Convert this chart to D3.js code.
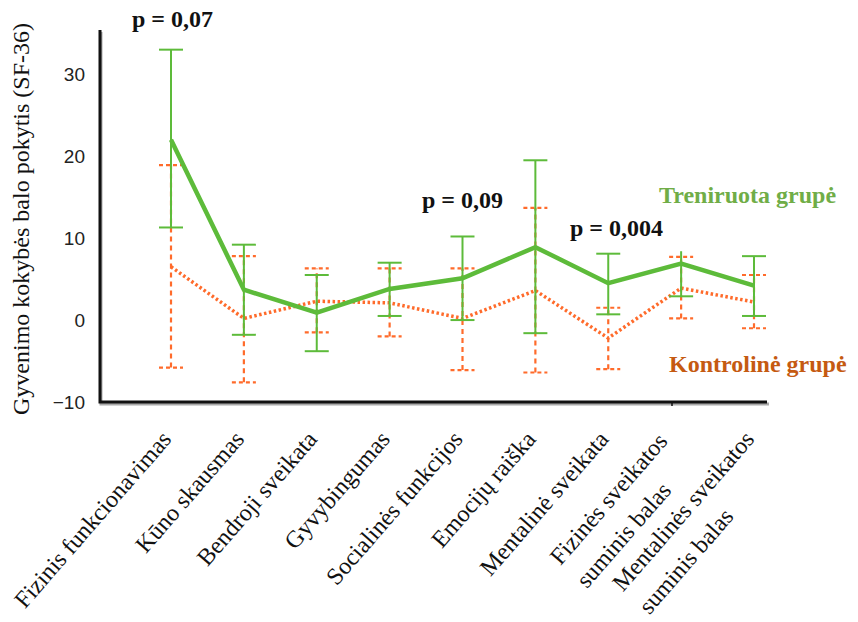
<!DOCTYPE html>
<html>
<head>
<meta charset="utf-8">
<script src="https://cdn.jsdelivr.net/npm/d3@7/dist/d3.min.js"></script>
<style>
  html, body { margin: 0; padding: 0; background: #fff; }
  svg { display: block; }
</style>
</head>
<body>
<svg id="chart" width="858" height="622"></svg>
<script>
// SF-36 subscales (each label split into display lines)
const categories = [
  ["Fizinis funkcionavimas"],
  ["Kūno skausmas"],
  ["Bendroji sveikata"],
  ["Gyvybingumas"],
  ["Socialinės funkcijos"],
  ["Emocijų raiška"],
  ["Mentalinė sveikata"],
  ["Fizinės sveikatos", "suminis balas"],
  ["Mentalinės sveikatos", "suminis balas"]
];

// Change of score, trained group: mean and error-bar bounds
const trainedMean = [22.0, 3.7, 0.9, 3.8, 5.1, 8.9, 4.5, 6.9, 4.2];
const trainedLow  = [11.3, -1.8, -3.8, 0.5, 0.0, -1.6, 0.7, 2.9, 0.5];
const trainedHigh = [33.0, 9.2, 5.5, 7.0, 10.2, 19.5, 8.1, 8.4, 7.8];

// Change of score, control group: mean and error-bar bounds
const controlMean = [6.5, 0.2, 2.3, 2.1, 0.2, 3.6, -2.2, 3.9, 2.2];
const controlLow  = [-5.8, -7.6, -1.5, -2.0, -6.1, -6.4, -6.0, 0.2, -1.0];
const controlHigh = [18.9, 7.8, 6.3, 6.3, 6.3, 13.7, 1.5, 7.7, 5.5];

const yTicks = [-10, 0, 10, 20, 30];

// p-value annotations: category index and text
const pLabels = [
  { idx: 0, text: "p = 0,07" },
  { idx: 4, text: "p = 0,09" },
  { idx: 6, text: "p = 0,004" }
];

const seriesNames = ["Treniruota grupė", "Kontrolinė grupė"];
const yTitle = "Gyvenimo kokybės balo pokytis (SF-36)";

const GREEN = "#5dbb3a";
const ORANGE = "#ff6b2b";
const serif = "'Liberation Serif', 'Times New Roman', serif";
const sans = "'Liberation Sans', Arial, sans-serif";

const svg = d3.select("#chart");

const x = d3.scalePoint()
  .domain(d3.range(categories.length))
  .range([171, 754]);

const y = d3.scaleLinear()
  .domain([-10, 35.4])
  .range([402, 30]);

// Y axis tick labels (no tick marks)
const yAxis = svg.append("g")
  .attr("transform", "translate(100,0)")
  .call(d3.axisLeft(y).tickValues(yTicks).tickSize(0).tickPadding(15).tickFormat(d3.format("d")));
yAxis.select(".domain").remove();
yAxis.selectAll("text")
  .attr("font-family", sans)
  .attr("font-size", 19)
  .attr("fill", "#222");

// Axis frame
const frame = svg.append("g");
frame.append("path")
  .attr("d", "M101,32V404H769")
  .attr("fill", "none")
  .attr("stroke", "#aaa")
  .attr("stroke-width", 3);
frame.append("path")
  .attr("d", "M100,30V402H767")
  .attr("fill", "none")
  .attr("stroke", "#111")
  .attr("stroke-width", 3);
frame.append("line")
  .attr("x1", 672).attr("x2", 672)
  .attr("y1", 402).attr("y2", 406)
  .attr("stroke", "#111").attr("stroke-width", 1.5);

// Y axis title
svg.append("text")
  .attr("transform", "translate(29,219) rotate(-90)")
  .attr("text-anchor", "middle")
  .attr("font-family", serif)
  .attr("font-size", 24)
  .attr("fill", "#111")
  .text(yTitle);

// Category labels, rotated
const ANG = -49;
categories.forEach((lines, i) => {
  const g = svg.append("g")
    .attr("transform", `translate(${x(i) + 1.5},440) rotate(${ANG})`);
  if (lines.length === 1) {
    g.append("text")
      .attr("text-anchor", "end")
      .attr("font-family", serif)
      .attr("font-size", 24)
      .attr("fill", "#111")
      .text(lines[0]);
  } else {
    const shift = i === 7 ? [-10.7, -9.3] : [0, 0];
    const t1 = g.append("text")
      .attr("x", shift[0]).attr("y", shift[1])
      .attr("text-anchor", "end")
      .attr("font-family", serif)
      .attr("font-size", 24)
      .attr("fill", "#111")
      .text(lines[0]);
    const len = t1.node().getComputedTextLength();
    g.append("text")
      .attr("x", shift[0] - len).attr("y", shift[1] + 35)
      .attr("text-anchor", "start")
      .attr("font-family", serif)
      .attr("font-size", 24)
      .attr("fill", "#111")
      .text(lines[1]);
  }
});

const idx = d3.range(categories.length);

// Control group: error bars (dashed) and dotted line
const ctrl = svg.append("g");
idx.forEach(i => {
  ctrl.append("line")
    .attr("x1", x(i)).attr("x2", x(i))
    .attr("y1", y(controlLow[i])).attr("y2", y(controlHigh[i]))
    .attr("stroke", ORANGE).attr("stroke-width", 2.2)
    .attr("stroke-dasharray", "5,4");
  [controlLow[i], controlHigh[i]].forEach(v => {
    ctrl.append("line")
      .attr("x1", x(i) - 12).attr("x2", x(i) + 12)
      .attr("y1", y(v)).attr("y2", y(v))
      .attr("stroke", ORANGE).attr("stroke-width", 2.2)
      .attr("stroke-dasharray", "4,3");
  });
});
ctrl.append("path")
  .datum(idx)
  .attr("d", d3.line().x(i => x(i)).y(i => y(controlMean[i])))
  .attr("fill", "none")
  .attr("stroke", ORANGE)
  .attr("stroke-width", 3.5)
  .attr("stroke-dasharray", "2.5,2.5");

// Trained group: error bars and solid line
const tr = svg.append("g");
idx.forEach(i => {
  tr.append("line")
    .attr("x1", x(i)).attr("x2", x(i))
    .attr("y1", y(trainedLow[i])).attr("y2", y(trainedHigh[i]))
    .attr("stroke", GREEN).attr("stroke-width", 2);
  [trainedLow[i], trainedHigh[i]].forEach(v => {
    if (i === 7 && v === trainedHigh[i]) return;
    tr.append("line")
      .attr("x1", x(i) - 12).attr("x2", x(i) + 12)
      .attr("y1", y(v)).attr("y2", y(v))
      .attr("stroke", GREEN).attr("stroke-width", 2);
  });
});
tr.append("path")
  .datum(idx)
  .attr("d", d3.line().x(i => x(i)).y(i => y(trainedMean[i])))
  .attr("fill", "none")
  .attr("stroke", GREEN)
  .attr("stroke-width", 4.5)
  .attr("stroke-linejoin", "miter");

// p-value annotations
const pPos = [[132, 27], [422, 208], [570, 236]];
pLabels.forEach((p, k) => {
  svg.append("text")
    .attr("x", pPos[k][0]).attr("y", pPos[k][1])
    .attr("font-family", serif)
    .attr("font-weight", "bold")
    .attr("font-size", 24)
    .attr("fill", "#111")
    .text(p.text);
});

// Series labels
svg.append("text")
  .attr("x", 659).attr("y", 203)
  .attr("font-family", serif).attr("font-weight", "bold").attr("font-size", 24)
  .attr("fill", "#70ad47")
  .text(seriesNames[0]);
svg.append("text")
  .attr("x", 669).attr("y", 372)
  .attr("font-family", serif).attr("font-weight", "bold").attr("font-size", 24)
  .attr("fill", "#c55a11")
  .text(seriesNames[1]);
</script>
</body>
</html>
